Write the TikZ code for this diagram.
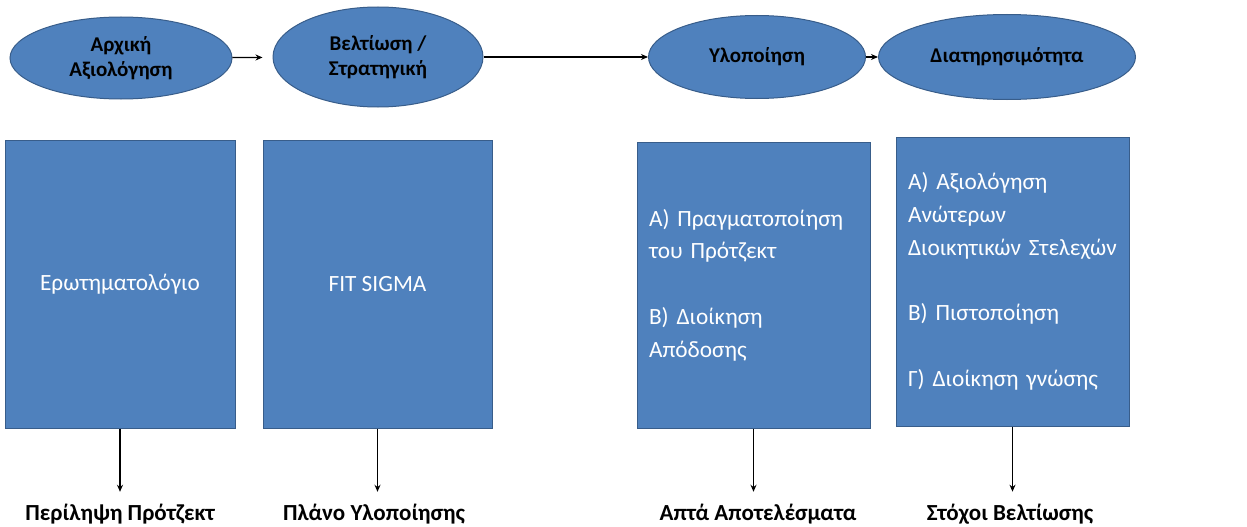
\documentclass[tikz,border=0pt]{standalone}
\usepackage{fontspec}
\setmainfont{Carlito}
\usetikzlibrary{shapes.geometric,arrows.meta}
\definecolor{boxblue}{HTML}{4F81BD}
\definecolor{boxedge}{HTML}{385D8A}

\begin{document}
\begin{tikzpicture}[x=1pt,y=-1pt,
    >={Stealth[length=7pt,width=6pt]},
    stage/.style={ellipse,draw=boxedge,fill=boxblue,line width=1pt,inner sep=0pt,
        align=center,font=\fontsize{21}{25}\selectfont\bfseries},
    panel/.style={rectangle,draw=boxedge,fill=boxblue,line width=1pt,text=white,
        font=\fontsize{23.3}{32.8}\selectfont},
    result/.style={inner ysep=12pt,font=\fontsize{23}{26}\selectfont\bfseries},
    flow/.style={->,line width=1.3pt}]
    \useasboundingbox (0,0) rectangle (1247,527);
    %the four stages on top
    \node[stage,minimum width=222,minimum height=82] (e1) at (121,58) {Αρχική\\Αξιολόγηση};
    \node[stage,minimum width=210,minimum height=100] (e2) at (378,57) {Βελτίωση /\\Στρατηγική};
    \node[stage,minimum width=217,minimum height=83] (e3) at (757,57) {Υλοποίηση};
    \node[stage,minimum width=257,minimum height=85] (e4) at (1007,57) {Διατηρησιμότητα};
    \draw[flow,shorten >=10pt] (e1) -- (e2);
    \draw[flow] (e2) -- (e3);
    \draw[flow] (e3) -- (e4);
    %what is done in each stage
    \node[panel,minimum width=230,minimum height=288] (b1) at (120,284) {Ερωτηματολόγιο};
    \node[panel,minimum width=229,minimum height=288] (b2) at (377.5,284) {FIT SIGMA};
    \node[panel,minimum width=233,minimum height=286,text width=209,inner xsep=12pt,align=left] (b3) at (753.5,285)
        {Α) Πραγματοποίηση\\του Πρότζεκτ\\\mbox{}\\Β) Διοίκηση\\Απόδοσης};
    \node[panel,minimum width=233,minimum height=289,text width=209,inner xsep=12pt,align=left] (b4) at (1012.5,281.5)
        {Α) Αξιολόγηση\\Ανώτερων\\\mbox{Διοικητικών Στελεχών}\\\mbox{}\\Β) Πιστοποίηση\\\mbox{}\\Γ) \mbox{Διοίκηση γνώσης}};
    %outputs
    \node[result] (r1) at (120,514) {Περίληψη Πρότζεκτ};
    \node[result] (r2) at (374,514) {Πλάνο Υλοποίησης};
    \node[result] (r3) at (758,514) {Απτά Αποτελέσματα};
    \node[result] (r4) at (1010,514) {Στόχοι Βελτίωσης};
    \foreach \i in {1,...,4}
        \draw[flow] (b\i.south) -- (b\i.south |- r\i.north);
\end{tikzpicture}
\end{document}
